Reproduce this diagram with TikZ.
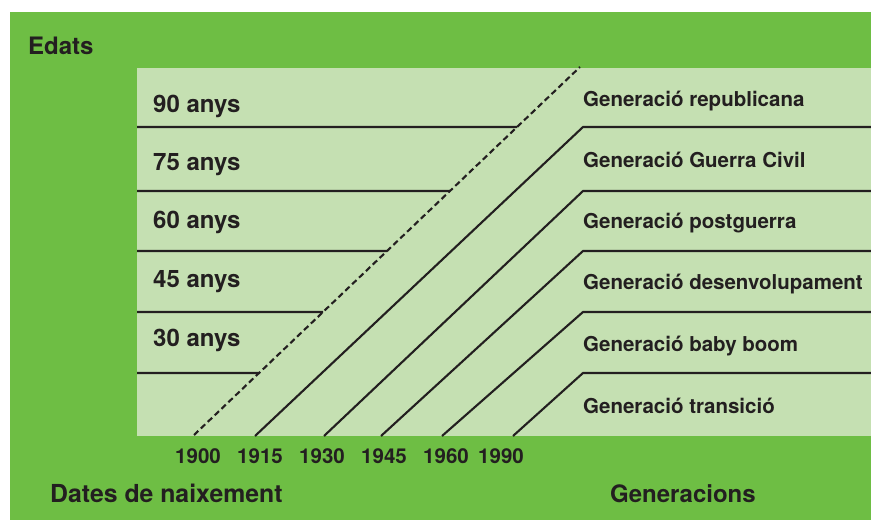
\documentclass[tikz,border=0pt]{standalone}
\usepackage{fontspec}
\setmainfont{TeX Gyre Heros}
\definecolor{outergreen}{RGB}{110,190,68}
\definecolor{innergreen}{RGB}{197,224,178}
\definecolor{ink}{RGB}{35,31,32}
\tikzset{
  biglabel/.style={anchor=base west, inner sep=0pt, text=ink,
    font=\fontsize{24}{24}\selectfont\bfseries},
  smalllabel/.style={anchor=base west, inner sep=0pt, text=ink,
    font=\fontsize{20.5}{20.5}\selectfont\bfseries},
  yearlabel/.style={anchor=base, inner sep=0pt, text=ink,
    font=\fontsize{20.5}{20.5}\selectfont\bfseries},
  ageline/.style={draw=ink, line width=2.3pt},
  genline/.style={draw=ink, line width=2.1pt, line join=miter},
  birthline/.style={draw=ink, line width=2.1pt, dash pattern=on 6pt off 3.5pt},
}
\begin{document}
\begin{tikzpicture}[x=1pt, y=-1pt]
  \useasboundingbox (0,0) rectangle (871,520);
  % backgrounds
  \fill[outergreen] (10,12) rectangle (871,520);
  \fill[innergreen] (137,68) rectangle (871,436);

  % axis titles
  \node[biglabel] (edats) at (28,54) {Edats};
  \node[biglabel, font=\fontsize{24.8}{24.8}\selectfont\bfseries] (dates) at (50,502) {Dates de naixement};
  \node[biglabel] (gens) at (610,502) {Generacions};

  % dashed line of the year 1900
  \coordinate (d0) at (194,435);
  \coordinate (d1) at (580,67);
  \draw[birthline] (d0) -- (d1);

  % age lines, ending on the dashed line
  \foreach \yy in {127,191,251,312,373}{
    \coordinate (l\yy) at (137,\yy);
    \coordinate (r\yy) at (871,\yy);
    \draw[ageline] (l\yy) -- (intersection of d0--d1 and l\yy--r\yy);
  }

  % age labels
  \node[biglabel] (a90) at (153,112) {90 anys};
  \node[biglabel] (a75) at (153,170) {75 anys};
  \node[biglabel] (a60) at (153,228) {60 anys};
  \node[biglabel] (a45) at (153,287) {45 anys};
  \node[biglabel] (a30) at (153,346) {30 anys};

  % generation boundaries: diagonal from the birth year, then horizontal
  \foreach \bx/\yy in {255/127, 324/191, 381/251, 442/312, 513/373}{
    \coordinate (b\bx) at (\bx,436);
    \coordinate (k\bx) at (583,\yy);
    \coordinate (e\bx) at (871,\yy);
    \draw[genline] (b\bx) -- (k\bx) -- (e\bx);
  }

  % generation labels
  \node[smalllabel] (g1) at (583,106) {Generació republicana};
  \node[smalllabel] (g2) at (583,167.5) {Generació Guerra Civil};
  \node[smalllabel] (g3) at (583,228.5) {Generació postguerra};
  \node[smalllabel] (g4) at (583,289.5) {Generació desenvolupament};
  \node[smalllabel] (g5) at (583,351) {Generació baby boom};
  \node[smalllabel] (g6) at (583,413) {Generació transició};

  % birth years
  \node[yearlabel] (y1900) at (198,463) {1900};
  \node[yearlabel] (y1915) at (260,463) {1915};
  \node[yearlabel] (y1930) at (322,463) {1930};
  \node[yearlabel] (y1945) at (384,463) {1945};
  \node[yearlabel] (y1960) at (446,463) {1960};
  \node[yearlabel] (y1990) at (501,463) {1990};
\end{tikzpicture}
\end{document}
